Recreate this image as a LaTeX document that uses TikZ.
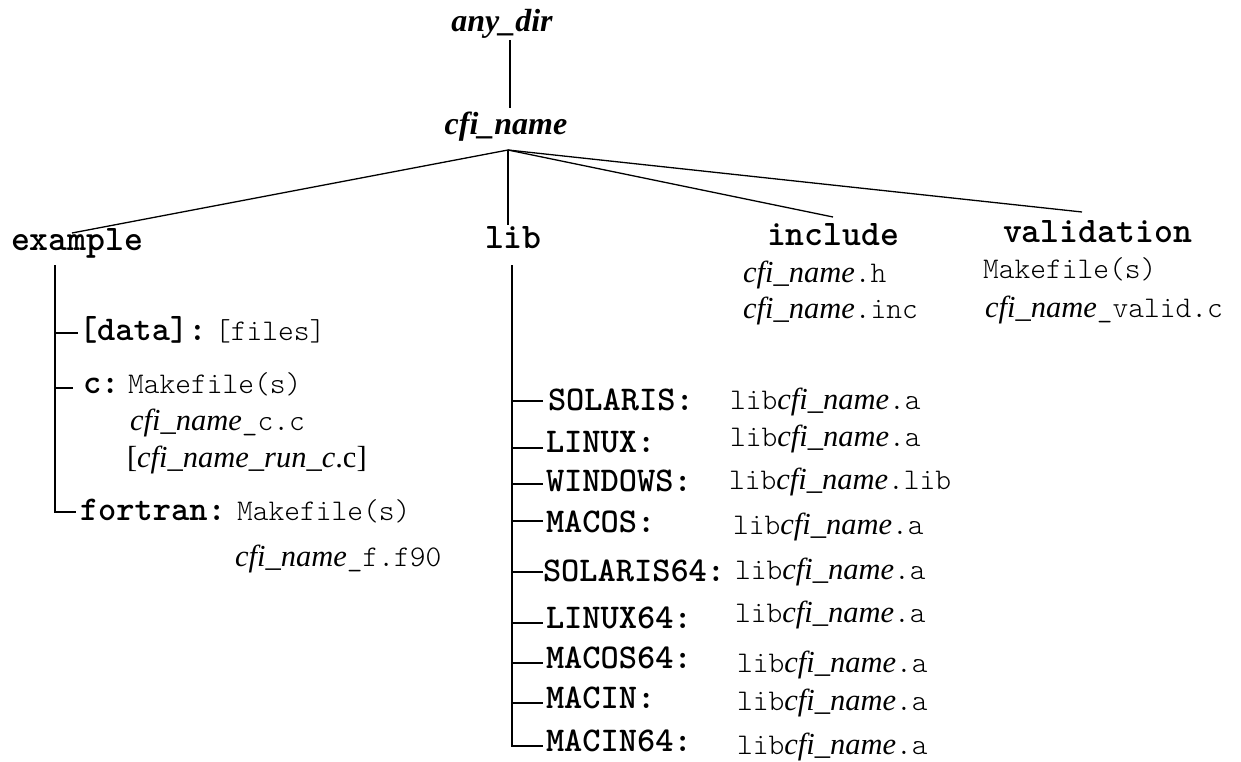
\documentclass[tikz,border=0pt]{standalone}
\usepackage{fontspec}
\setmainfont{Liberation Serif}
\newfontfamily\monofam{lmmonolt10-regular}[Extension=.otf, BoldFont=lmmonolt10-bold]
\newcommand\mt[1]{{\monofam\fontsize{30}{30}\selectfont #1}}
\newcommand\cn{{\fontsize{30.5}{30}\selectfont\itshape cfi\_name}}
\newcommand\srf[1]{{\fontsize{30.5}{30}\selectfont #1}}
\tikzset{
  lbl/.style={anchor=base west, inner sep=0pt, outer sep=0pt},
  toptxt/.style={anchor=base, inner sep=0pt, font=\bfseries\itshape\fontsize{32}{32}\selectfont},
  headtxt/.style={lbl, font=\monofam\bfseries\fontsize{36}{36}\selectfont},
  subtxt/.style={lbl, font=\monofam\bfseries\fontsize{34.7}{34.7}\selectfont},
  filetxt/.style={lbl},
  fan/.style={line width=1.3pt},
  tree/.style={line width=2pt},
}
\begin{document}
\begin{tikzpicture}[x=1pt,y=-1pt]
\useasboundingbox (0,0) rectangle (1241,762);
% top
\node[toptxt] (anydir) at (502,32) {any\_dir};
\node[toptxt] (cfiname) at (506,135) {cfi\_name};
\coordinate (a1) at (510,40);
\coordinate (a2) at (510,108);
\draw[tree] (a1) -- (a2);
\coordinate (hub) at (508,150);
% headings
\node[headtxt] (example) at (11,250) {example};
\node[headtxt] (lib) at (485,248) {lib};
\node[headtxt] (include) at (767,245) {include};
\node[headtxt] (validation) at (1003,242) {validation};
\coordinate (eEx) at (72,233);
\coordinate (eLib) at (508,225);
\coordinate (eInc) at (833,217);
\coordinate (eVal) at (1082,212);
\draw[fan] (hub) -- (eEx);
\draw[tree] (hub) -- (eLib);
\draw[fan] (hub) -- (eInc);
\draw[fan] (hub) -- (eVal);
% include
\node[filetxt] (inch) at (743,282) {\cn\mt{.h}};
\node[filetxt] (incinc) at (743,318) {\cn\mt{.inc}};
% validation
\node[filetxt] (valmk) at (983,278) {\mt{Makefile(s)}};
\node[filetxt] (valc) at (985,317) {\cn\mt{\_valid.c}};
% example subtree
\coordinate (x0) at (55,265);
\coordinate (xc) at (55,512);
\coordinate (xd) at (55,333);
\coordinate (xcc) at (55,388);
\node[subtxt] (data) at (79,340) {[data]:};
\node[filetxt] (files) at (215,340) {\mt{[files]}};
\node[subtxt] (csub) at (83,393) {c:};
\node[filetxt] (cmk) at (128,393) {\mt{Makefile(s)}};
\node[filetxt] (cc) at (130,430) {\cn\mt{\_c.c}};
\node[filetxt] (crun) at (127,467) {\srf{[\textit{cfi\_name\_run\_c}.c]}};
\node[subtxt] (fortran) at (80,520) {fortran:};
\node[filetxt] (fmk) at (237,520) {\mt{Makefile(s)}};
\node[filetxt] (ff) at (235,566) {\cn\mt{\_f.f90}};
\coordinate (fe) at (76,512);
\coordinate (de) at (78,333);
\coordinate (ce) at (73,388);
\draw[tree] (x0) -- (xc) -- (fe);
\draw[tree] (xd) -- (de);
\draw[tree] (xcc) -- (ce);
% lib subtree
\coordinate (l0) at (511.5,265);
\coordinate (lb) at (511.5,746);
\coordinate (le) at (543,746);
\draw[tree] (l0) -- (lb) -- (le);
\foreach \yy/\nm in {401/t1,448/t2,484/t3,521/t4,572/t5,623/t6,663/t7,703/t8}{
  \coordinate (\nm a) at (511.5,\yy);
  \coordinate (\nm b) at (543,\yy);
  \draw[tree] (\nm a) -- (\nm b);
}
\node[subtxt] (sol) at (548,410) {SOLARIS:};
\node[subtxt] (lin) at (546,452) {LINUX:};
\node[subtxt] (win) at (546,491) {WINDOWS:};
\node[subtxt] (mac) at (546,532) {MACOS:};
\node[subtxt] (sol64) at (543,581) {SOLARIS64:};
\node[subtxt] (lin64) at (546,628) {LINUX64:};
\node[subtxt] (mac64) at (546,668) {MACOS64:};
\node[subtxt] (macin) at (546,708) {MACIN:};
\node[subtxt] (macin64) at (546,751) {MACIN64:};
\node[filetxt] (fsol) at (730,409) {\mt{lib}\cn\mt{.a}};
\node[filetxt] (flin) at (730,446) {\mt{lib}\cn\mt{.a}};
\node[filetxt] (fwin) at (729,489) {\mt{lib}\cn\mt{.lib}};
\node[filetxt] (fmac) at (733,534) {\mt{lib}\cn\mt{.a}};
\node[filetxt] (fsol64) at (735,579) {\mt{lib}\cn\mt{.a}};
\node[filetxt] (flin64) at (735,622) {\mt{lib}\cn\mt{.a}};
\node[filetxt] (fmac64) at (737,672) {\mt{lib}\cn\mt{.a}};
\node[filetxt] (fmacin) at (737,710) {\mt{lib}\cn\mt{.a}};
\node[filetxt] (fmacin64) at (737,754) {\mt{lib}\cn\mt{.a}};
\end{tikzpicture}
\end{document}
